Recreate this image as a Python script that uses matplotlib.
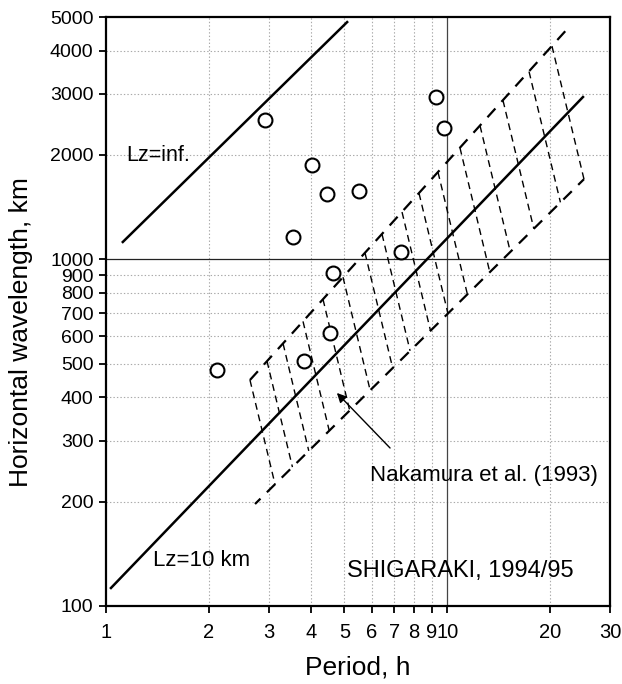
import numpy as np
import matplotlib
matplotlib.use("Agg")
import matplotlib.pyplot as plt
from matplotlib.ticker import FixedLocator, NullLocator

plt.rcParams['font.family'] = ['Liberation Sans', 'DejaVu Sans']
plt.rcParams['lines.scale_dashes'] = False

# observed waves (period h, horizontal wavelength km)
obs_period = [2.11, 2.92, 3.53, 4.02, 4.44, 5.51, 3.80, 4.53, 4.63, 7.32, 9.27, 9.79]
obs_wavelength = [480, 2523, 1159, 1871, 1542, 1574, 509, 613, 912, 1050, 2939, 2392]

# theoretical lines
lz_inf_period = [1.12, 5.09]
lz_inf_wavelength = [1122, 4834]
lz_10_period = [1.034, 25.0]
lz_10_wavelength = [112.7, 2939]

# Nakamura et al. (1993) band: slanted segments (top end, bottom end)
nak_top_period = [2.642, 2.964, 3.303, 3.779, 4.325, 4.950, 5.742, 6.441,
                  7.372, 8.268, 9.398, 10.90, 12.48, 14.57, 17.37, 20.28]
nak_top_wavelength = [448.6, 508.5, 571.7, 662.2, 766.8, 888.2, 1044, 1182,
                      1369, 1551, 1784, 2097, 2428, 2874, 3480, 4121]
nak_bot_period = [3.129, 3.519, 3.929, 4.511, 5.178, 5.945, 6.921, 7.784,
                  8.933, 10.05, 11.46, 13.33, 15.31, 17.94, 21.47, 25.17]
nak_bot_wavelength = [224.4, 251.6, 280.2, 320.3, 366.4, 419.0, 485.8, 544.5,
                      622.6, 697.8, 792.8, 918.9, 1051, 1226, 1460, 1703]
nak_upper_period = [2.642, 22.75]
nak_upper_wavelength = [448.6, 4677]
nak_lower_period = [2.734, 25.17]
nak_lower_wavelength = [196.9, 1703]

x_ticks = [1, 2, 3, 4, 5, 6, 7, 8, 9, 10, 20, 30]
x_labels = ["1", "2", "3", "4", "5", "6", "7", "8", "9", "10", "20", "30"]
y_ticks = [100, 200, 300, 400, 500, 600, 700, 800, 900, 1000, 2000, 3000, 4000, 5000]
y_labels = [str(v) for v in y_ticks]

fig = plt.figure(figsize=(6.22, 6.84), dpi=100)
ax = fig.add_axes([106 / 622, 1 - 606 / 684, 504 / 622, 589 / 684])
ax.set_xscale("log")
ax.set_yscale("log")
ax.set_xlim(1, 30)
ax.set_ylim(100, 5000)

# grid
for v in [2, 3, 4, 5, 6, 7, 8, 9, 20]:
    ax.axvline(v, color="#aaaaaa", lw=0.8, ls=(0, (1, 1.5)), zorder=0)
for v in [200, 300, 400, 500, 600, 700, 800, 900, 2000, 3000, 4000]:
    ax.axhline(v, color="#aaaaaa", lw=0.8, ls=(0, (1, 1.5)), zorder=0)
ax.axvline(10, color="#444444", lw=0.9, zorder=0)
ax.axhline(1000, color="#222222", lw=0.9, zorder=0)

# Nakamura band
for t0, l0, t1, l1 in zip(nak_top_period, nak_top_wavelength, nak_bot_period, nak_bot_wavelength):
    ax.plot([t0, t1], [l0, l1], color="black", lw=1.0, ls=(0, (5, 3.5)))
ax.plot(nak_upper_period, nak_upper_wavelength, color="black", lw=1.6, ls=(0, (8.5, 6.5)))
ax.plot(nak_lower_period, nak_lower_wavelength, color="black", lw=1.6, ls=(3, (8.5, 6.5)))

# theory lines
ax.plot(lz_inf_period, lz_inf_wavelength, color="black", lw=1.8)
ax.plot(lz_10_period, lz_10_wavelength, color="black", lw=1.8)

# observations
ax.plot(obs_period, obs_wavelength, "o", ms=10, mfc="white", mec="black", mew=1.5, zorder=5)

ax.text(1.144, 1999, "Lz=inf.", fontsize=15.5, va="center", ha="left")
ax.text(1.373, 135.7, "Lz=10 km", fontsize=16, va="center", ha="left")
ax.text(5.94, 238.7, "Nakamura et al. (1993)", fontsize=16, va="center", ha="left")
ax.text(5.09, 126.2, "SHIGARAKI, 1994/95", fontsize=17, va="center", ha="left")
ax.annotate("", xy=(4.75, 411.6), xytext=(6.80, 285.6),
            arrowprops=dict(arrowstyle="-|>", color="black", lw=1.0,
                            mutation_scale=14, shrinkA=0, shrinkB=0))

ax.xaxis.set_major_locator(FixedLocator(x_ticks))
ax.xaxis.set_minor_locator(NullLocator())
ax.set_xticklabels(x_labels)
ax.yaxis.set_major_locator(FixedLocator(y_ticks))
ax.yaxis.set_minor_locator(NullLocator())
ax.set_yticklabels(y_labels)
ax.tick_params(direction="out", length=5, width=1.3, labelsize=14.5, pad=4)
ax.tick_params(axis="y", labelsize=14)
ax.tick_params(axis="x", pad=7)

for s in ax.spines.values():
    s.set_linewidth(1.6)

ax.set_xlabel("Period, h", fontsize=19, labelpad=10)
ax.set_ylabel("Horizontal wavelength, km", fontsize=19, labelpad=12, y=0.465)

fig.savefig("out.png", dpi=100)
